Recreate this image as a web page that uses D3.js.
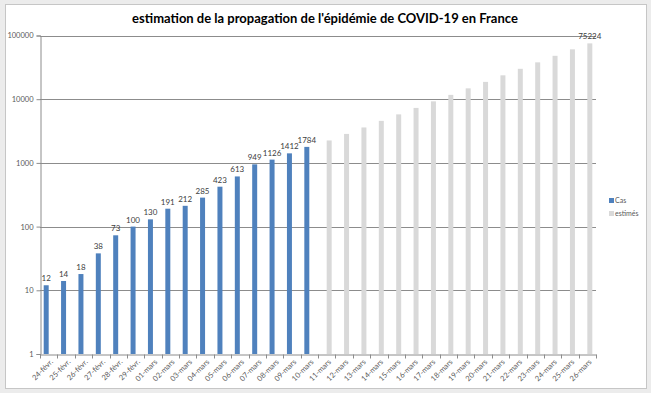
<!DOCTYPE html>
<html>
<head>
<meta charset="utf-8">
<script src="https://cdn.jsdelivr.net/npm/d3@7"></script>
<style>
  body { margin: 0; background: #ececec; }
  text { font-family: Lato, "Open Sans", sans-serif; }
</style>
</head>
<body>
<script>
// dimensions de la fenêtre
var w = 651, h = 393

// les données
const jours = ["24-févr.", "25-févr.", "26-févr.", "27-févr.", "28-févr.", "29-févr.",
  "01-mars", "02-mars", "03-mars", "04-mars", "05-mars", "06-mars", "07-mars", "08-mars",
  "09-mars", "10-mars", "11-mars", "12-mars", "13-mars", "14-mars", "15-mars", "16-mars",
  "17-mars", "18-mars", "19-mars", "20-mars", "21-mars", "22-mars", "23-mars", "24-mars",
  "25-mars", "26-mars"]
const cas = [12, 14, 18, 38, 73, 100, 130, 191, 212, 285, 423, 613, 949, 1126, 1412, 1784]
const estimes = [2250, 2850, 3600, 4570, 5780, 7300, 9250, 11700, 14800, 18700, 23700,
  30000, 37900, 48000, 60700, 75224]
const series = ["Cas", "estimés"]
const couleurs = ["#4f81bd", "#d9d9d9"]
const yTicks = [1, 10, 100, 1000, 10000, 100000]

// une ligne par barre
var lignes = []
cas.forEach(function(v, i) { lignes.push({ jour: jours[i], serie: "Cas", v: v, label: true }) })
estimes.forEach(function(v, i) {
  lignes.push({ jour: jours[cas.length + i], serie: "estimés", v: v, label: i === estimes.length - 1 })
})

var svg = d3.select("body").append("svg")
  .attr("width", w)
  .attr("height", h)

// cadre du graphique
svg.append("rect")
  .attr("x", 5.5).attr("y", 4.5)
  .attr("width", 641).attr("height", 384)
  .attr("fill", "#fff")
  .attr("stroke", "#c6c6c6")

// titre
svg.append("text")
  .attr("x", 325).attr("y", 23)
  .attr("text-anchor", "middle")
  .attr("font-size", 13)
  .attr("font-weight", "bold")
  .attr("fill", "#000")
  .text("estimation de la propagation de l'épidémie de COVID-19 en France")

var gauche = 40, droite = 596, haut = 35.5, bas = 354

var x = d3.scaleBand().domain(jours).range([gauche, droite]).padding(0)
var x1 = d3.scaleBand().domain(series).range([0, x.bandwidth()]).paddingOuter(0.74).paddingInner(0)
var y = d3.scaleLog().domain([1, 100000]).range([bas, haut])
var couleur = d3.scaleOrdinal().domain(series).range(couleurs)

// grille horizontale
svg.append("g").selectAll("line")
  .data(yTicks.slice(1))
  .enter().append("line")
  .attr("x1", gauche).attr("x2", droite)
  .attr("y1", function(d) { return Math.round(y(d)) + 0.5 })
  .attr("y2", function(d) { return Math.round(y(d)) + 0.5 })
  .attr("stroke", "#8c8c8c")
  .attr("stroke-width", 1)

// barres
svg.append("g").selectAll("rect")
  .data(lignes)
  .enter().append("rect")
  .attr("x", function(d) { return x(d.jour) + x1(d.serie) })
  .attr("width", x1.bandwidth())
  .attr("y", function(d) { return y(d.v) })
  .attr("height", function(d) { return bas - y(d.v) })
  .attr("fill", function(d) { return couleur(d.serie) })

// axe Y
var axeY = svg.append("g")
  .attr("transform", "translate(" + (gauche + 0.5) + ",0)")
  .call(d3.axisLeft(y).tickValues(yTicks).tickFormat(d3.format("d")).tickSize(4).tickPadding(3))
axeY.select(".domain").attr("stroke", "#8c8c8c")
axeY.selectAll(".tick line").attr("stroke", "#8c8c8c")
axeY.selectAll("text").attr("font-size", 7.5).attr("fill", "#595959").attr("font-family", "Lato, sans-serif")

// étiquettes de valeurs
svg.append("g").selectAll("text")
  .data(lignes.filter(function(d) { return d.label }))
  .enter().append("text")
  .attr("x", function(d) { return x(d.jour) + x1(d.serie) + x1.bandwidth() / 2 })
  .attr("y", function(d) { return Math.max(y(d.v) - 4, 38) })
  .attr("text-anchor", "middle")
  .attr("font-size", 8)
  .attr("fill", "#404040")
  .text(function(d) { return d.v })

// axe X
var axeX = svg.append("g")
  .attr("transform", "translate(0," + (bas + 0.5) + ")")
  .call(d3.axisBottom(x).tickSize(0).tickFormat(""))
axeX.select(".domain").attr("stroke", "#8c8c8c")
// petites graduations entre les jours
axeX.selectAll("line.sep")
  .data(d3.range(jours.length + 1))
  .enter().append("line")
  .attr("class", "sep")
  .attr("x1", function(i) { return Math.round(gauche + i * x.step()) + 0.5 })
  .attr("x2", function(i) { return Math.round(gauche + i * x.step()) + 0.5 })
  .attr("y1", 0).attr("y2", 4)
  .attr("stroke", "#8c8c8c")
axeX.selectAll("text.jour")
  .data(jours)
  .enter().append("text")
  .attr("class", "jour")
  .attr("transform", function(d) {
    return "translate(" + (x(d) + x.bandwidth() / 2 + 3) + ",6) rotate(-45)"
  })
  .attr("text-anchor", "end")
  .attr("dy", "0.35em")
  .attr("font-size", 7.5)
  .attr("fill", "#595959")
  .text(function(d) { return d })

// légende
var leg = svg.append("g").selectAll("g")
  .data(series)
  .enter().append("g")
  .attr("transform", function(d, i) { return "translate(609," + (198 + i * 13) + ")" })
leg.append("rect")
  .attr("width", 5).attr("height", 5)
  .attr("fill", function(d) { return couleur(d) })
leg.append("text")
  .attr("x", 6).attr("y", 5)
  .attr("font-size", 7)
  .attr("fill", "#595959")
  .text(function(d) { return d })
</script>
</body>
</html>
